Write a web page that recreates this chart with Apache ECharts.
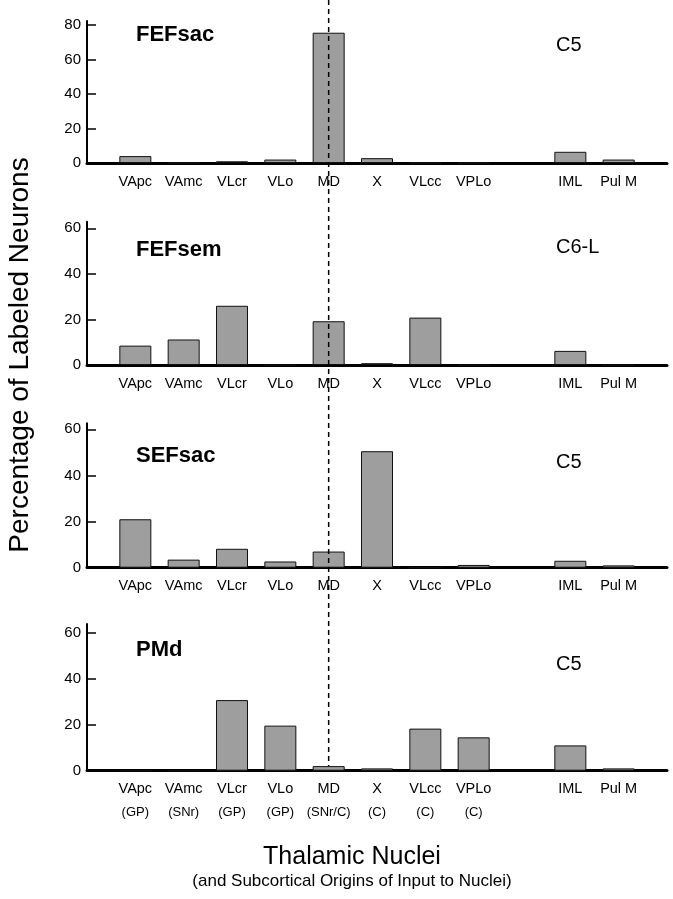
<!DOCTYPE html>
<html>
<head>
<meta charset="utf-8">
<script src="https://cdn.jsdelivr.net/npm/echarts@6/dist/echarts.min.js"></script>
<style>
html,body{margin:0;padding:0;background:#fff;}
#chart{width:673px;height:899px;}
</style>
</head>
<body>
<div id="chart"></div>
<script>
// ---- data ----
const categories = ['', 'VApc', 'VAmc', 'VLcr', 'VLo', 'MD', 'X', 'VLcc', 'VPLo', '', 'IML', 'Pul M', ''];
const inputOrigins = ['', '(GP)', '(SNr)', '(GP)', '(GP)', '(SNr/C)', '(C)', '(C)', '(C)', '', '', '', ''];
const panelNames = ['FEFsac', 'FEFsem', 'SEFsac', 'PMd'];
const caseIds = ['C5', 'C6-L', 'C5', 'C5'];
const fefsac = [null, 4, 0, 1, 2, 75.5, 2.8, 0, 0, null, 6.5, 2, null];
const fefsem = [null, 8.5, 11.2, 26, 0, 19.2, 0.8, 20.8, 0, null, 6.2, 0, null];
const sefsac = [null, 21, 3.5, 8.2, 2.7, 7, 50.5, 0, 1.2, null, 3, 1, null];
const pmd = [null, 0, 0, 30.7, 19.6, 2, 1, 18.3, 14.5, null, 11, 1, null];
const yTicks1 = [0, 20, 40, 60, 80];
const yTicks2 = [0, 20, 40, 60];
const yTitle = 'Percentage of Labeled Neurons';
const xTitle = 'Thalamic Nuclei';
const xSubtitle = '(and Subcortical Origins of Input to Nuclei)';

// ---- layout ----
const FONT = '"Liberation Sans", Arial, Helvetica, sans-serif';
const layout = [
  {top: 21, height: 142, max: 82.3, ticks: yTicks1, labelMargin: 11},
  {top: 221.7, height: 143.3, max: 62.9, ticks: yTicks2, labelMargin: 11},
  {top: 423.3, height: 144.4, max: 62.6, ticks: yTicks2, labelMargin: 11},
  {top: 624, height: 146.7, max: 63.8, ticks: yTicks2, labelMargin: 6}
];
const seriesData = [fefsac, fefsem, sefsac, pmd];

const chart = echarts.init(document.getElementById('chart'), null, {renderer: 'canvas'});

const grids = [], xAxes = [], yAxes = [], series = [];
layout.forEach((L, i) => {
  grids.push({left: 87, right: 6, top: L.top, height: L.height, containLabel: false});
  const isLast = i === layout.length - 1;
  xAxes.push({
    type: 'category', gridIndex: i, data: categories, boundaryGap: false,
    axisLine: {show: true, lineStyle: {color: '#000', width: 3}},
    axisTick: {show: false},
    splitLine: {show: false},
    axisLabel: {
      interval: 0, margin: L.labelMargin, color: '#000',
      fontFamily: FONT, fontSize: 14.5,
      formatter: isLast
        ? function (v, idx) {
            const o = inputOrigins[idx];
            return o ? '{a|' + v + '}\n{b|' + o + '}' : '{a|' + v + '}';
          }
        : null,
      rich: isLast ? {
        a: {fontFamily: FONT, fontSize: 14.5, color: '#000', lineHeight: 24},
        b: {fontFamily: FONT, fontSize: 13, color: '#000', lineHeight: 24}
      } : undefined
    }
  });
  yAxes.push({
    type: 'value', gridIndex: i, min: 0, max: L.max,
    axisLine: {show: true, lineStyle: {color: '#000', width: 2}},
    axisTick: {show: true, inside: true, length: 9, customValues: L.ticks, lineStyle: {color: '#000', width: 1.5}},
    axisLabel: {customValues: L.ticks, color: '#000', fontFamily: FONT, fontSize: 15, margin: 6},
    splitLine: {show: false}
  });
  series.push({
    type: 'bar', xAxisIndex: i, yAxisIndex: i, data: seriesData[i],
    barWidth: 32,
    itemStyle: {color: '#9e9e9e', borderColor: '#111', borderWidth: 1},
    emphasis: {disabled: true},
    animation: false
  });
});

const titleCenters = [35, 250, 456, 650];
const caseCenters = [45.5, 247, 462, 664];
const graphics = [];
panelNames.forEach((n, i) => {
  graphics.push({type: 'text', x: 136, y: titleCenters[i],
    style: {text: n, fontFamily: FONT, fontSize: 22, fontWeight: 'bold', fill: '#000', verticalAlign: 'middle', align: 'left'}});
  graphics.push({type: 'text', x: 556, y: caseCenters[i],
    style: {text: caseIds[i], fontFamily: FONT, fontSize: 20, fill: '#000', verticalAlign: 'middle', align: 'left'}});
});
graphics.push({type: 'text', x: 20, y: 355, rotation: Math.PI / 2,
  style: {text: yTitle, fontFamily: FONT, fontSize: 28, fill: '#000', verticalAlign: 'middle', align: 'center'}});
graphics.push({type: 'text', x: 352, y: 857,
  style: {text: xTitle, fontFamily: FONT, fontSize: 25, fill: '#000', verticalAlign: 'middle', align: 'center'}});
graphics.push({type: 'text', x: 352, y: 881,
  style: {text: xSubtitle, fontFamily: FONT, fontSize: 17, fill: '#000', verticalAlign: 'middle', align: 'center'}});

chart.setOption({
  animation: false,
  backgroundColor: '#fff',
  grid: grids, xAxis: xAxes, yAxis: yAxes, series: series,
  graphic: graphics
});

// dashed reference line through MD, from the top of the figure down to the PMd MD bar
const mdIdx = categories.indexOf('MD');
const xPix = chart.convertToPixel({xAxisIndex: 0}, mdIdx);
const yBottom = chart.convertToPixel({gridIndex: 3}, [mdIdx, pmd[mdIdx]])[1];
graphics.push({type: 'line', z: 100,
  shape: {x1: xPix, y1: 0, x2: xPix, y2: yBottom},
  style: {stroke: '#000', lineWidth: 1.5, lineDash: [5, 4]}});
chart.setOption({graphic: graphics});
</script>
</body>
</html>
